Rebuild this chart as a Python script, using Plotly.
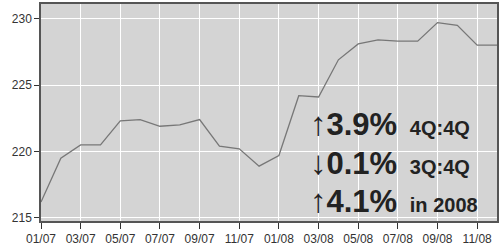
import plotly.graph_objects as go

months = ["01/07","02/07","03/07","04/07","05/07","06/07","07/07","08/07","09/07","10/07","11/07","12/07",
          "01/08","02/08","03/08","04/08","05/08","06/08","07/08","08/08","09/08","10/08","11/08","12/08"]
values = [216.2, 219.5, 220.5, 220.5, 222.3, 222.4, 221.9, 222.0, 222.4, 220.4, 220.2, 218.9,
          219.7, 224.2, 224.1, 226.9, 228.1, 228.4, 228.3, 228.3, 229.7, 229.5, 228.0, 228.0]
tick_labels = months[::2]
y_ticks = [215, 220, 225, 230]

notes = [
    ("\u2191", "3.9%", "4Q:4Q"),
    ("\u2193", "0.1%", "3Q:4Q"),
    ("\u2191", "4.1%", "in 2008"),
]

x_idx = list(range(len(months)))

fig = go.Figure()
fig.add_trace(go.Scatter(x=x_idx, y=values, mode="lines",
                         line=dict(color="#777777", width=1.3), hoverinfo="skip"))

fig.update_layout(
    width=500, height=247,
    margin=dict(l=41, r=1, t=4, b=26),
    paper_bgcolor="white", plot_bgcolor="#d4d4d4",
    showlegend=False,
    font=dict(family="Liberation Sans, Arial, sans-serif", size=12, color="#333333"),
)
fig.update_xaxes(
    range=[0, 23], tickmode="array",
    tickvals=x_idx[::2], ticktext=tick_labels,
    ticks="outside", ticklen=6, tickcolor="#333333", tickwidth=1,
    showgrid=True, gridcolor="white", gridwidth=1,
    showline=True, linecolor="#555555", linewidth=1.5, mirror=True,
    zeroline=False, tickfont=dict(size=12, color="#333333"),
)
fig.update_yaxes(
    range=[214.77, 231.1], tickmode="array", tickvals=y_ticks,
    ticktext=[str(v) for v in y_ticks],
    ticks="outside", ticklen=5, tickcolor="#333333", tickwidth=1,
    showgrid=True, gridcolor="white", gridwidth=1,
    showline=True, linecolor="#555555", linewidth=1.5, mirror=True,
    zeroline=False, tickfont=dict(size=12, color="#333333"),
)

ypos = [222.1, 219.2, 216.3]
for (arrow, pct, label), yy in zip(notes, ypos):
    fig.add_annotation(
        xref="paper", yref="y", x=0.586, y=yy, xanchor="left", yanchor="middle",
        showarrow=False,
        text=f"<b><span style='font-size:33px'>{arrow}</span>{pct}</b> <b><span style='font-size:20px'>\u2009{label}</span></b>",
        font=dict(size=31, color="#222222", family="Liberation Sans, Arial, sans-serif"),
    )

fig.write_html("out.html", config={"displayModeBar": False},
               post_script="document.body.style.margin='0';")
